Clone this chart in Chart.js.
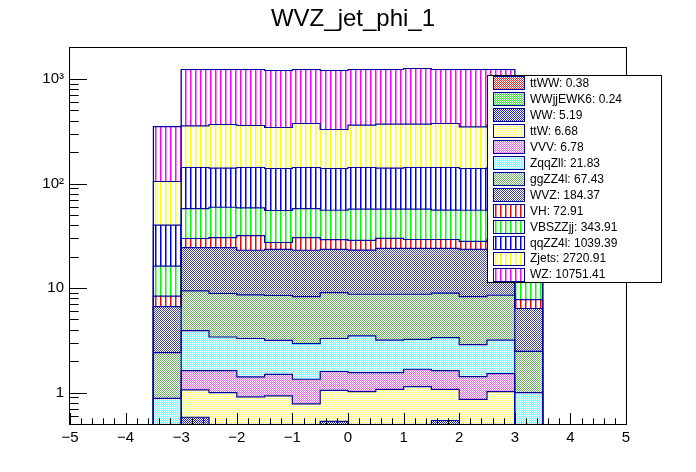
<!DOCTYPE html>
<html lang="en">

<head>
  <meta charset="UTF-8" />
  <title>WVZ_jet_phi_1</title>
  <script src="https://cdn.jsdelivr.net/npm/chart.js"></script>
  <style>
    html,
    body {
      margin: 0;
      padding: 0;
      background: #fff;
    }
  </style>
</head>

<body>
  <canvas id="myChart01" width="696" height="472"></canvas>

  <script>
    // bin edges of the histogram (14 bins, width 0.5)
    const binEdges = [-3.5, -3, -2.5, -2, -1.5, -1, -0.5, 0, 0.5, 1, 1.5, 2, 2.5, 3, 3.5];

    // per-bin yields, stacked from bottom (ttWW) to top (WZ)
    const ttWW = [0.02, 0.03, 0.04, 0.03, 0.02, 0.03, 0.03, 0.03, 0.03, 0.02, 0.03, 0.03, 0.03, 0.02];
    const WWjjEWK6 = [0.01, 0.02, 0.02, 0.01, 0.02, 0.02, 0.02, 0.02, 0.01, 0.02, 0.02, 0.02, 0.02, 0.01];
    const WW = [0.07, 0.53, 0.39, 0.36, 0.38, 0.33, 0.48, 0.39, 0.38, 0.41, 0.49, 0.35, 0.37, 0.07];
    const ttW = [0.10, 0.48, 0.55, 0.51, 0.51, 0.40, 0.52, 0.58, 0.65, 0.69, 0.53, 0.46, 0.60, 0.12];
    const VVV = [0.15, 0.56, 0.62, 0.50, 0.56, 0.56, 0.54, 0.53, 0.48, 0.53, 0.55, 0.56, 0.50, 0.18];
    const ZqqZll = [0.53, 2.30, 1.78, 1.88, 1.66, 1.60, 1.70, 1.93, 1.62, 1.55, 1.74, 1.46, 1.65, 0.60];
    const ggZZ4l = [1.53, 5.46, 5.46, 5.30, 5.33, 5.35, 5.76, 5.24, 5.55, 5.50, 5.56, 5.41, 5.36, 1.48];
    const WVZ = [4.24, 15.0, 15.5, 14.4, 15.0, 14.7, 14.35, 14.3, 15.2, 15.2, 15.0, 15.1, 14.97, 3.89];
    const VH = [1.70, 5.4, 6.0, 8.8, 3.8, 7.4, 5.7, 5.5, 5.9, 5.2, 5.2, 4.6, 5.8, 1.39];
    const VBSZZjj = [7.85, 27.8, 28.9, 26.6, 27.9, 27.2, 26.4, 28.3, 27.0, 27.7, 26.4, 27.5, 27.5, 8.24];
    const qqZZ4l = [23.7, 84.7, 80.8, 83.9, 84.0, 84.7, 83.7, 85.5, 83.3, 85.5, 86.8, 83.7, 84.9, 24.0];
    const Zjets = [64.6, 213.5, 226.8, 216.6, 204.3, 232.7, 189.5, 219.0, 229.3, 227.1, 232.7, 208.8, 219.6, 65.0];
    const WZ = [246.5, 877, 866, 874, 862, 858, 877, 872, 864, 891, 858, 885, 872, 245];

    const legendLabels = [
      "ttWW: 0.38", "WWjjEWK6: 0.24", "WW: 5.19", "ttW: 6.68", "VVV: 6.78",
      "ZqqZll: 21.83", "ggZZ4l: 67.43", "WVZ: 184.37", "VH: 72.91",
      "VBSZZjj: 343.91", "qqZZ4l: 1039.39", "Zjets: 2720.91", "WZ: 10751.41",
    ];

    const xTickValues = [-5, -4, -3, -2, -1, 0, 1, 2, 3, 4, 5];
    const xTickLabels = ["\u22125", "\u22124", "\u22123", "\u22122", "\u22121", "0", "1", "2", "3", "4", "5"];
    const yTickValues = [1, 10, 100, 1000];
    const yTickLabels = ["1", "10", "10\u00b2", "10\u00b3"];

    const YMIN = 0.5;
    const YMAX = 1980;
    const LINE_COLOR = "rgb(0, 0, 160)";
    const FONT = "'Liberation Sans', Arial, Helvetica, sans-serif";

    // ROOT-like fill patterns: fine dots or vertical hatches
    function makePattern(color, kind) {
      const c = document.createElement("canvas");
      const g = c.getContext("2d");
      if (kind === "checker") {
        c.width = 2;
        c.height = 2;
        g.fillStyle = "#fff";
        g.fillRect(0, 0, 2, 2);
        g.fillStyle = color;
        g.fillRect(0, 0, 1, 1);
        g.fillRect(1, 1, 1, 1);
      } else {
        c.width = 5;
        c.height = 5;
        g.fillStyle = "#fff";
        g.fillRect(0, 0, 5, 5);
        g.fillStyle = color;
        g.fillRect(0, 0, 1, 5);
        g.globalAlpha = 0.5;
        g.fillRect(1, 0, 1, 5);
      }
      return g.createPattern(c, "repeat");
    }

    const series = [
      { data: ttWW, color: "rgb(255, 40, 40)", kind: "checker" },
      { data: WWjjEWK6, color: "rgb(40, 240, 40)", kind: "checker" },
      { data: WW, color: "rgb(30, 30, 235)", kind: "checker" },
      { data: ttW, color: "rgb(255, 255, 120)", kind: "checker" },
      { data: VVV, color: "rgb(240, 100, 240)", kind: "checker" },
      { data: ZqqZll, color: "rgb(120, 255, 255)", kind: "checker" },
      { data: ggZZ4l, color: "rgb(105, 180, 95)", kind: "checker" },
      { data: WVZ, color: "rgb(70, 70, 160)", kind: "checker" },
      { data: VH, color: "rgb(255, 0, 0)", kind: "lines" },
      { data: VBSZZjj, color: "rgb(0, 255, 0)", kind: "lines" },
      { data: qqZZ4l, color: "rgb(0, 0, 255)", kind: "lines" },
      { data: Zjets, color: "rgb(255, 255, 0)", kind: "lines" },
      { data: WZ, color: "rgb(255, 0, 255)", kind: "lines" },
    ];
    series.forEach((s, k) => {
      s.label = legendLabels[k];
      s.pattern = makePattern(s.color, s.kind);
    });

    const binCenters = binEdges.slice(0, -1).map((e, i) => (e + binEdges[i + 1]) / 2);

    // filled stacked bars
    const barSets = series.map((s) => ({
      type: "bar",
      label: s.label,
      data: s.data.map((v, i) => ({ x: binCenters[i], y: v })),
      backgroundColor: s.pattern,
      borderWidth: 0,
      barPercentage: 1,
      categoryPercentage: 1,
      stack: "mc",
      order: 1,
    }));

    // outline of each cumulative histogram
    const running = binCenters.map(() => 0);
    const lineSets = series.map((s, k) => {
      s.data.forEach((v, i) => (running[i] += v));
      const last = binEdges.length - 1;
      const pts = [{ x: binEdges[0], y: YMIN }];
      running.forEach((c, i) => pts.push({ x: binEdges[i], y: c }));
      pts.push({ x: binEdges[last], y: running[running.length - 1] });
      pts.push({ x: binEdges[last], y: YMIN });
      return {
        type: "line",
        label: "outline " + k,
        data: pts,
        borderColor: LINE_COLOR,
        borderWidth: 1.2,
        pointRadius: 0,
        fill: false,
        stepped: true,
        stack: "outline" + k,
        order: 0,
      };
    });

    // frame, inner ticks, legend and title as ROOT draws them
    const rootDecor = {
      id: "rootDecor",
      afterDatasetsDraw(chart) {
        const { ctx, chartArea: a, scales } = chart;
        ctx.save();
        ctx.strokeStyle = "#000";
        ctx.lineWidth = 1;
        ctx.beginPath();
        // x ticks
        for (let i = -25; i <= 25; i++) {
          const px = Math.round(scales.x.getPixelForValue(i * 0.2)) + 0.5;
          const len = i % 5 === 0 ? 11 : 5.7;
          ctx.moveTo(px, a.bottom);
          ctx.lineTo(px, a.bottom - len);
        }
        // y ticks
        for (let d = 0.1; d < YMAX * 10; d *= 10) {
          for (let m = 1; m <= 9; m++) {
            const v = m * d;
            if (v < YMIN || v > YMAX) continue;
            const py = Math.round(scales.y.getPixelForValue(v)) + 0.5;
            const len = m === 1 ? 17 : 8.7;
            ctx.moveTo(a.left, py);
            ctx.lineTo(a.left + len, py);
          }
        }
        ctx.stroke();
        ctx.strokeRect(a.left - 0.5, a.top - 0.5, a.right - a.left + 1, a.bottom - a.top + 1);
        ctx.restore();
      },
      afterDraw(chart) {
        const { ctx } = chart;
        ctx.save();
        // legend box
        const bx = 487.5, by = 75.5, bw = 174, bh = 207;
        const rowH = bh / series.length;
        ctx.fillStyle = "#fff";
        ctx.fillRect(bx, by, bw, bh);
        ctx.strokeStyle = "#000";
        ctx.lineWidth = 1;
        ctx.strokeRect(bx, by, bw, bh);
        ctx.font = "12px " + FONT;
        ctx.textAlign = "left";
        ctx.textBaseline = "middle";
        series.forEach((s, k) => {
          const cy = by + (k + 0.5) * rowH;
          const sy = Math.round(cy - 6);
          ctx.fillStyle = s.pattern;
          ctx.fillRect(494, sy, 30, 12);
          ctx.strokeStyle = LINE_COLOR;
          ctx.strokeRect(493.5, sy - 0.5, 31, 13);
          ctx.fillStyle = "#000";
          ctx.fillText(s.label, 530, cy + 0.5);
        });
        // title
        ctx.font = "24px " + FONT;
        ctx.textAlign = "center";
        ctx.textBaseline = "alphabetic";
        ctx.fillText("WVZ_jet_phi_1", 353, 26);
        ctx.restore();
      },
    };

    const ctx01 = document.getElementById("myChart01");
    var mychart01 = new Chart(ctx01, {
      type: "bar",
      data: {
        datasets: barSets.concat(lineSets),
      },
      plugins: [rootDecor],
      options: {
        responsive: false,
        devicePixelRatio: 1,
        animation: false,
        layout: {
          padding: { left: 0, right: 70, top: 48, bottom: 0 },
        },
        plugins: {
          legend: { display: false },
          title: { display: false },
          tooltip: { enabled: false },
        },
        scales: {
          x: {
            type: "linear",
            stacked: true,
            offset: false,
            min: -5,
            max: 5,
            grid: { display: false, drawTicks: false, offset: false },
            border: { display: false },
            afterBuildTicks: (s) => {
              s.ticks = xTickValues.map((v) => ({ value: v }));
            },
            afterFit: (s) => {
              s.height = 48;
            },
            ticks: {
              autoSkip: false,
              maxRotation: 0,
              padding: 5,
              color: "#000",
              font: { family: FONT, size: 15 },
              callback: (v, i) => xTickLabels[i],
            },
          },
          y: {
            type: "logarithmic",
            stacked: true,
            min: YMIN,
            max: YMAX,
            grid: { display: false, drawTicks: false },
            border: { display: false },
            afterBuildTicks: (s) => {
              s.ticks = yTickValues.map((v) => ({ value: v }));
            },
            afterFit: (s) => {
              s.width = 70;
            },
            ticks: {
              autoSkip: false,
              padding: 6,
              color: "#000",
              font: { family: FONT, size: 15 },
              callback: (v, i) => yTickLabels[i],
            },
          },
        },
      },
    });
  </script>
</body>

</html>
